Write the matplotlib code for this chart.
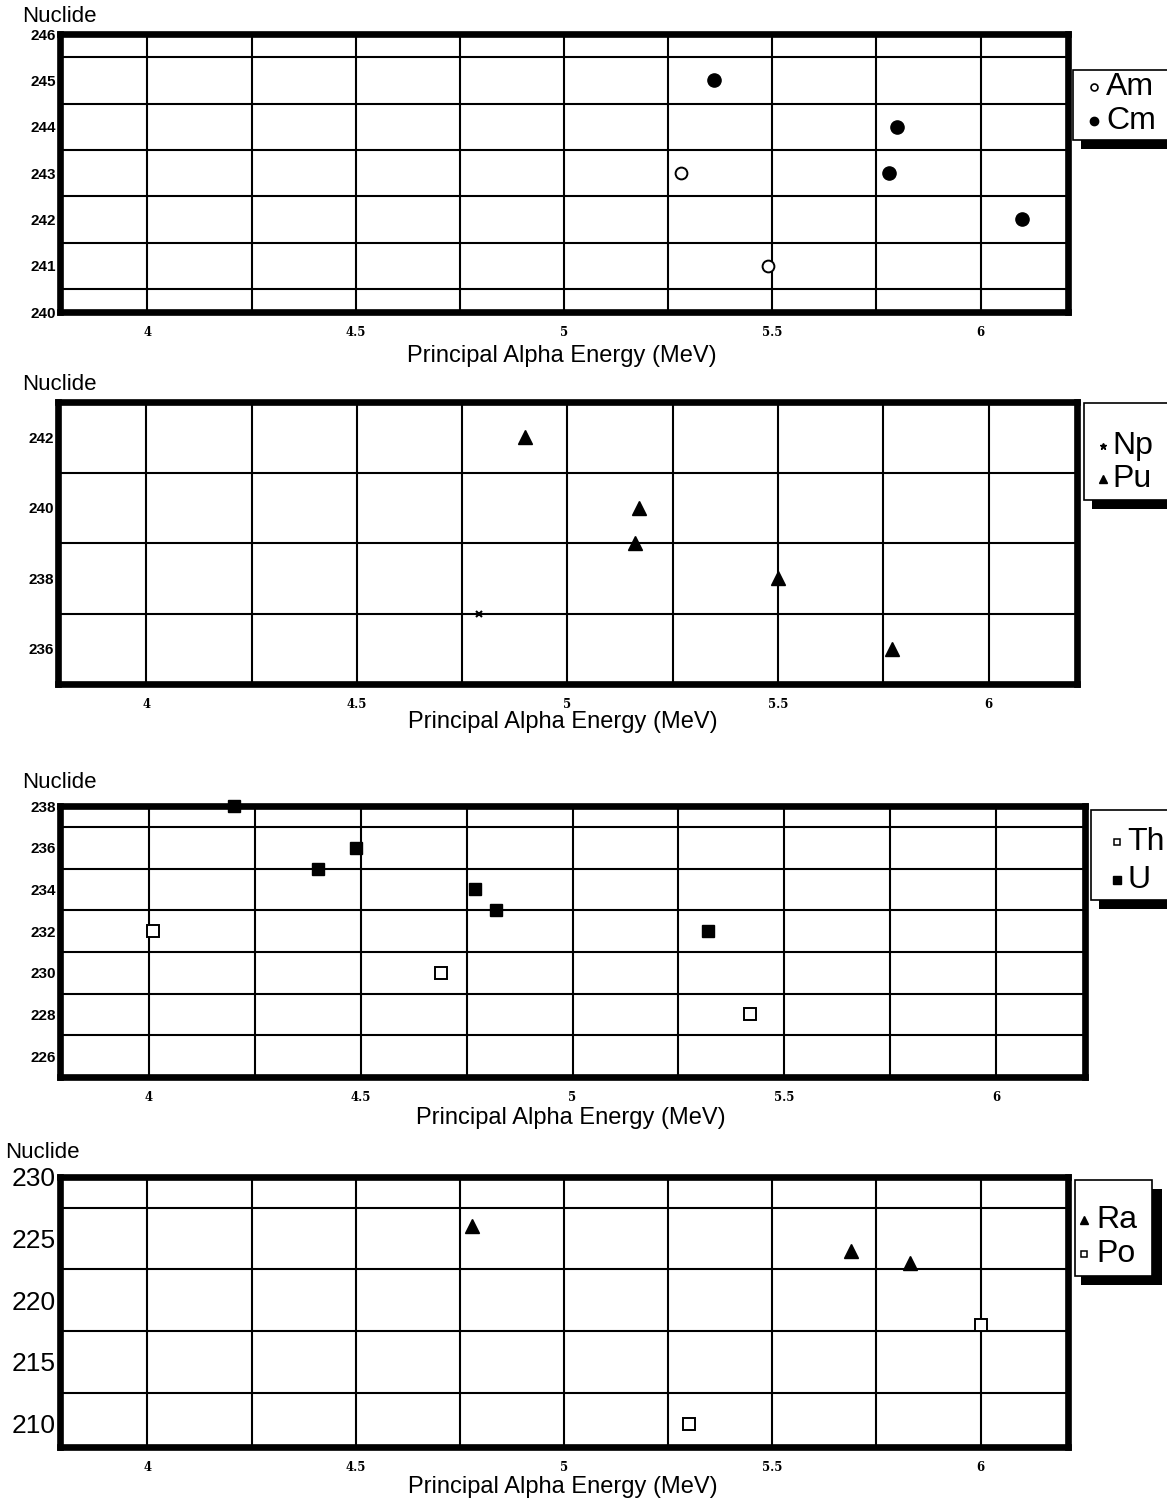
import matplotlib
matplotlib.use("Agg")
import matplotlib.pyplot as plt
from matplotlib.lines import Line2D
from matplotlib.patches import Rectangle
import numpy as np

W, H = 1167, 1500

# panel 1: Am / Cm
am_e = [5.28, 5.49]
am_n = [243, 241]
cm_e = [5.36, 5.80, 5.78, 6.10]
cm_n = [245, 244, 243, 242]

# panel 2: Np / Pu
np_e = [4.79]
np_n = [237]
pu_e = [4.90, 5.17, 5.16, 5.50, 5.77]
pu_n = [242, 240, 239, 238, 236]

# panel 3: Th / U
th_e = [4.01, 4.69, 5.42]
th_n = [232, 230, 228]
u_e = [4.20, 4.40, 4.49, 4.77, 4.82, 5.32]
u_n = [238, 235, 236, 234, 233, 232]

# panel 4: Ra / Po
ra_e = [4.78, 5.69, 5.83]
ra_n = [226, 224, 223]
po_e = [6.00, 5.30]
po_n = [218, 210]

x_ticks = [4, 4.5, 5, 5.5, 6]
x_tick_labels = ["4", "4.5", "5", "5.5", "6"]
xlabel = "Principal Alpha Energy (MeV)"


def px_axes(fig, left, top, right, bottom):
    return fig.add_axes([left / W, 1 - bottom / H, (right - left) / W, (bottom - top) / H])


def style(ax, ylim, yticks, ygrid, yfont):
    ax.set_xlim(3.79, 6.21)
    ax.set_ylim(*ylim)
    ax.set_xticks(x_ticks)
    ax.set_xticklabels(x_tick_labels, fontfamily="DejaVu Serif", fontweight="bold", fontsize=8.5)
    ax.set_yticks(yticks)
    ax.set_yticklabels([str(v) for v in yticks], **yfont)
    ax.tick_params(length=0)
    ax.tick_params(axis="x", pad=10)
    ax.tick_params(axis="y", pad=3)
    for v in np.arange(4, 6.01, 0.25):
        ax.axvline(v, color="black", lw=1.5, zorder=1)
    for v in ygrid:
        ax.axhline(v, color="black", lw=1.5, zorder=1)
    for s in ax.spines.values():
        s.set_linewidth(4.8)
        s.set_zorder(5)


def legend_box(fig, left, top, bottom, right, entries, shadow_right=False):
    # entries: (marker kwargs, label, y_center, marker_x, text_x)
    sh = 9
    if shadow_right:
        fig.patches.append(Rectangle(((left + 6) / W, 1 - (bottom + sh) / H), (right - left + 4) / W,
                                     (bottom - top) / H, transform=fig.transFigure,
                                     facecolor="black", edgecolor="none", zorder=1))
    else:
        fig.patches.append(Rectangle(((left + 8) / W, 1 - (bottom + sh) / H), (right - left) / W,
                                     sh / H + 0.002, transform=fig.transFigure,
                                     facecolor="black", edgecolor="none", zorder=1))
    fig.patches.append(Rectangle((left / W, 1 - bottom / H), (right - left) / W, (bottom - top) / H,
                                 transform=fig.transFigure, facecolor="white",
                                 edgecolor="black", lw=1.2, zorder=2))
    for mk, label, yc, mx, tx in entries:
        fig.add_artist(Line2D([mx / W], [1 - yc / H], transform=fig.transFigure,
                              linestyle="none", zorder=3, **mk))
        fig.text(tx / W, 1 - yc / H, label, fontsize=23, fontfamily="Liberation Sans",
                 va="center", ha="left", zorder=3)


fig = plt.figure(figsize=(W / 100, H / 100), dpi=100)

small_y = dict(fontfamily="Liberation Sans", fontweight="bold", fontsize=11)
big_y = dict(fontfamily="Liberation Sans", fontsize=19)

# panel 1
ax1 = px_axes(fig, 60, 34, 1068, 312)
style(ax1, (240, 246), list(range(240, 247)), np.arange(240.5, 246, 1), small_y)
ax1.plot(am_e, am_n, "o", mfc="white", mec="black", mew=1.4, ms=8.5, zorder=4)
ax1.plot(cm_e, cm_n, "o", color="black", ms=9.5, zorder=4)

# panel 2
ax2 = px_axes(fig, 58, 402, 1077, 684)
style(ax2, (235, 243), [236, 238, 240, 242], [237, 239, 241], small_y)
ax2.plot(np_e, np_n, "x", color="black", ms=5, mew=1.5, zorder=4)
ax2.plot(pu_e, pu_n, "^", color="black", ms=10, zorder=4)

# panel 3
ax3 = px_axes(fig, 60, 806, 1085, 1077)
style(ax3, (225, 238), list(range(226, 239, 2)), list(range(227, 238, 2)), small_y)
ax3.plot(th_e, th_n, "s", mfc="white", mec="black", mew=1.4, ms=8, zorder=4)
ax3.plot(u_e, u_n, "s", color="black", ms=8.5, zorder=6, clip_on=False)

# panel 4
ax4 = px_axes(fig, 60, 1177, 1068, 1447)
style(ax4, (208.1, 230), [210, 215, 220, 225, 230], [212.5, 217.5, 222.5, 227.5], big_y)
ax4.plot(ra_e, ra_n, "^", color="black", ms=10, zorder=4)
ax4.plot(po_e, po_n, "s", mfc="white", mec="black", mew=1.4, ms=8, zorder=4)

# axis titles
for x, y in [(22, 17), (22, 384), (22, 783), (5, 1152)]:
    fig.text(x / W, 1 - y / H, "Nuclide", fontsize=16, fontfamily="Liberation Sans",
             va="center", ha="left")
for xc, y in [(562, 356), (563, 722), (571, 1118), (563, 1487)]:
    fig.text(xc / W, 1 - y / H, xlabel, fontsize=17, fontfamily="Liberation Sans",
             va="center", ha="center")

# legends
legend_box(fig, 1073, 70, 140, 1180, [
    (dict(marker="o", mfc="white", mec="black", ms=5, mew=1.2), "Am", 87, 1094, 1106),
    (dict(marker="o", color="black", ms=6), "Cm", 121, 1094, 1106)])
legend_box(fig, 1084, 403, 500, 1180, [
    (dict(marker="*", color="black", ms=5), "Np", 446, 1103, 1112),
    (dict(marker="^", color="black", ms=6), "Pu", 479, 1103, 1112)])
legend_box(fig, 1091, 810, 900, 1180, [
    (dict(marker="s", mfc="white", mec="black", ms=5, mew=1.1), "Th", 842, 1117, 1127),
    (dict(marker="s", color="black", ms=5.5), "U", 880, 1117, 1127)])
legend_box(fig, 1075, 1180, 1276, 1152, [
    (dict(marker="^", color="black", ms=5.5), "Ra", 1220, 1084, 1096),
    (dict(marker="s", mfc="white", mec="black", ms=4, mew=1.1), "Po", 1254, 1084, 1096)],
    shadow_right=True)

fig.savefig("out.png", dpi=100)
